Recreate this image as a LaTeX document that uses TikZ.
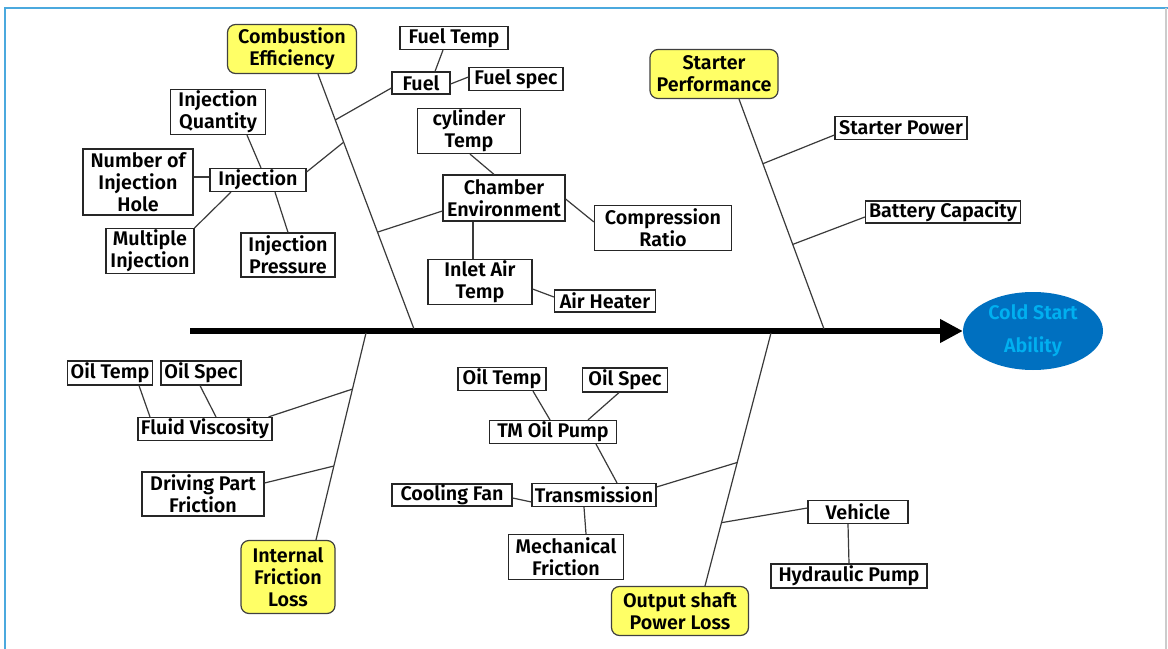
\documentclass[tikz,border=0pt]{standalone}
\usepackage{fontspec}
\setmainfont{Fira Sans}[UprightFont=* SemiBold]
\usetikzlibrary{arrows.meta,calc,shapes.geometric}
\definecolor{frameblue}{HTML}{4BA9DE}
\definecolor{causefill}{HTML}{FFFF66}
\definecolor{headfill}{HTML}{0070C0}
\definecolor{headtext}{HTML}{00B0F0}
\definecolor{linegray}{HTML}{3A3A3A}

\begin{document}
\begin{tikzpicture}[x=0.75pt,y=-0.75pt,
  font=\fontsize{14.8}{16.5}\selectfont,
  every node/.style={align=center, inner sep=0pt},
  factor/.style 2 args={draw=black!85, line width=0.9pt, fill=white,
    minimum width=#1*0.75pt, minimum height=#2*0.75pt},
  category/.style 2 args={draw=black!75, line width=0.9pt, fill=causefill,
    rounded corners=6pt, minimum width=#1*0.75pt, minimum height=#2*0.75pt},
  bone/.style={draw=linegray, line width=0.9pt},
  twig/.style={draw=linegray, line width=0.9pt},
  spine/.style={line width=3.8pt, -{Triangle[length=17pt,width=17pt]}}
]
% canvas and frame
\useasboundingbox (0,0) rectangle (1168,649);
\fill[white] (0,0) rectangle (1168,649);
\draw[frameblue, line width=1.5pt] (5,649) -- (5,8) -- (1168,8);
\draw[black!20, line width=0.8pt] (1166,8) -- (1166,649);

% head of the fish
\node[ellipse, fill=headfill, text=headtext, minimum width=140*0.75pt,
  minimum height=78*0.75pt, font=\fontsize{14.8}{25}\selectfont]
  (goal) at (1033,331) {Cold Start\\Ability};
\coordinate (tail) at (190,331);
\draw[spine] (tail) -- (goal.west);

% main categories
\node[category={129}{49}] (ce) at (292,49) {Combustion\\Efficiency};
\node[category={128}{49}] (sp) at (714,74) {Starter\\Performance};
\node[category={94}{73}] (ifl) at (288,577) {Internal\\Friction\\Loss};
\node[category={137}{49}] (osp) at (680,611) {Output shaft\\Power Loss};

% bones
\coordinate (ceA) at ($(ce.south)+(26,0)$);
\coordinate (ceF) at (414,329);
\coordinate (spA) at ($(sp.south)+(25,0)$);
\coordinate (spF) at (824,329);
\coordinate (iflA) at (366,333);
\coordinate (iflF) at ($(ifl.north)+(28,0)$);
\coordinate (ospA) at (771,333);
\coordinate (ospF) at ($(osp.north)+(25,0)$);
\draw[bone] (ceA) -- (ceF);
\draw[bone] (spA) -- (spF);
\draw[bone] (iflA) -- (iflF);
\draw[bone] (ospA) -- (ospF);

% combustion efficiency factors
\node[factor={58}{22}] (fuel) at (421,83) {Fuel};
\node[factor={108}{23}] (fueltemp) at (454,38) {Fuel Temp};
\node[factor={94}{23}] (fuelspec) at (516,79) {Fuel spec};
\node[factor={96}{23}] (inj) at (258,180) {Injection};
\node[factor={95}{45}] (injq) at (218,112) {Injection\\Quantity};
\node[factor={110}{66}] (injhole) at (138,182) {Number of\\Injection\\Hole};
\node[factor={88}{45}] (multi) at (150,251) {Multiple\\Injection};
\node[factor={94}{44}] (injp) at (288,255) {Injection\\Pressure};
\node[factor={122}{46}] (chamber) at (504,198) {Chamber\\Environment};
\node[factor={103}{45}] (cyl) at (469,131) {cylinder\\Temp};
\node[factor={137}{45}] (comp) at (663,228) {Compression\\Ratio};
\node[factor={104}{45}] (inlet) at (480,282) {Inlet Air\\Temp};
\node[factor={101}{22}] (heater) at (605,301) {Air Heater};

\draw[twig] ($(ceA)!0.18!(ceF)$) -- ($(fuel.west)+(0,5)$);
\draw[twig] ($(fueltemp.south)+(-11,0)$) -- ($(fuel.north)+(14,0)$);
\draw[twig] ($(fuel.east)+(0,1)$) -- ($(fuelspec.west)+(0,-2)$);
\draw[twig] ($(ceA)!0.267!(ceF)$) -- ($(inj.east)+(0,-8)$);
\draw[twig] ($(injq.south)+(29,0)$) -- ($(inj.north)+(3,0)$);
\draw[twig] ($(injhole.east)+(0,-5)$) -- ($(inj.west)+(0,-3)$);
\draw[twig] (multi.north east) -- ($(inj.south)+(-27,0)$);
\draw[twig] ($(inj.south)+(17,0)$) -- (injp.north);
\draw[twig] ($(ceA)!0.62!(ceF)$) -- ($(chamber.west)+(0,13)$);
\draw[twig] ($(cyl.south)+(1,0)$) -- ($(chamber.north)+(-10,0)$);
\draw[twig] ($(chamber.east)+(0,1)$) -- ($(comp.west)+(0,-6)$);
\draw[twig] ($(chamber.south)+(-31,0)$) -- ($(inlet.north)+(-7,0)$);
\draw[twig] ($(inlet.east)+(0,7)$) -- ($(heater.west)+(0,-4)$);

% starter performance factors
\node[factor={132}{23}] (stpower) at (901,128) {Starter Power};
\node[factor={155}{22}] (battery) at (943,212) {Battery Capacity};
\draw[twig] ($(spA)!0.281!(spF)$) -- ($(stpower.west)+(0,7)$);
\draw[twig] ($(spA)!0.632!(spF)$) -- ($(battery.west)+(0,5)$);

% internal friction loss factors
\node[factor={134}{23}] (fluid) at (205,429) {Fluid Viscosity};
\node[factor={85}{24}] (oiltempA) at (110,373) {Oil Temp};
\node[factor={80}{24}] (oilspecA) at (201,373) {Oil Spec};
\node[factor={122}{44}] (driving) at (203,494) {Driving Part\\Friction};
\draw[twig] ($(iflA)!0.271!(iflF)$) -- ($(fluid.north east)+(-4,0)$);
\draw[twig] ($(oiltempA.south)+(29,0)$) -- ($(fluid.north)+(-55,0)$);
\draw[twig] ($(oilspecA.south)+(-1,0)$) -- ($(fluid.north)+(11,0)$);
\draw[twig] ($(driving.east)+(0,-11)$) -- ($(iflA)!0.643!(iflF)$);

% output shaft power loss factors
\node[factor={124}{23}] (trans) at (594,495) {Transmission};
\node[factor={127}{23}] (tmpump) at (553,432) {TM Oil Pump};
\node[factor={88}{23}] (oiltempB) at (502,379) {Oil Temp};
\node[factor={85}{24}] (oilspecB) at (625,380) {Oil Spec};
\node[factor={120}{22}] (fan) at (452,495) {Cooling Fan};
\node[factor={115}{45}] (mech) at (566,557) {Mechanical\\Friction};
\node[factor={100}{23}] (vehicle) at (858,512) {Vehicle};
\node[factor={156}{24}] (hydraulic) at (849,576) {Hydraulic Pump};
\draw[twig] ($(trans.east)+(0,-8)$) -- ($(ospA)!0.512!(ospF)$);
\draw[twig] ($(tmpump.south)+(43,0)$) -- ($(trans.north)+(23,0)$);
\draw[twig] ($(oiltempB.south)+(31,0)$) -- ($(tmpump.north)+(-3,0)$);
\draw[twig] ($(oilspecB.south)+(-6,0)$) -- ($(tmpump.north)+(35,0)$);
\draw[twig] ($(fan.east)+(0,3)$) -- ($(trans.west)+(0,7)$);
\draw[twig] ($(trans.south)+(-10,0)$) -- ($(mech.north)+(20,0)$);
\draw[twig] ($(ospA)!0.75!(ospF)$) -- ($(vehicle.west)+(0,-4)$);
\draw[twig] ($(vehicle.south)+(-10,0)$) -- (hydraulic.north);
\end{tikzpicture}
\end{document}
